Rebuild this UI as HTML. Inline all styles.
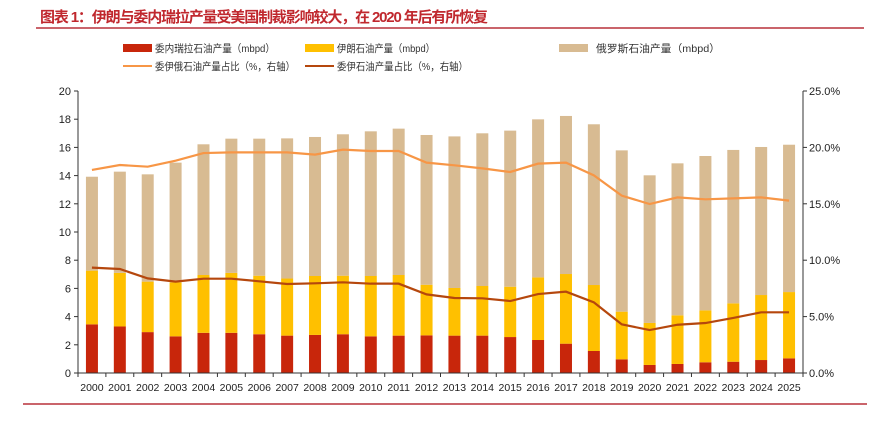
<!DOCTYPE html>
<html><head><meta charset="utf-8"><style>
body{margin:0;background:#fff;width:870px;height:424px;overflow:hidden}
svg{display:block;font-family:"Liberation Sans","Noto Sans CJK SC",sans-serif}
</style></head><body>
<svg id="chart" width="870" height="424" xmlns="http://www.w3.org/2000/svg">
<text x="40" y="22" font-size="15" fill="#c0282e" font-weight="bold" textLength="448" lengthAdjust="spacing">图表 1：伊朗与委内瑞拉产量受美国制裁影响较大，在 2020 年后有所恢复</text>
<line x1="36" y1="28" x2="864" y2="28" stroke="#b8313a" stroke-width="1.5"/>
<line x1="23" y1="404" x2="867" y2="404" stroke="#b8313a" stroke-width="1.5"/>
<g font-size="10.5" fill="#333">
<g><rect x="123" y="44" width="29" height="8" fill="#c8260b"/><text x="155" y="52" textLength="120" lengthAdjust="spacingAndGlyphs">委内瑞拉石油产量（mbpd）</text></g>
<g><rect x="305" y="44" width="29" height="8" fill="#ffc000"/><text x="337" y="52" textLength="98" lengthAdjust="spacingAndGlyphs">伊朗石油产量（mbpd）</text></g>
<g><rect x="559" y="44" width="29" height="8" fill="#d8bb92"/><text x="596" y="52" textLength="124" lengthAdjust="spacingAndGlyphs">俄罗斯石油产量（mbpd）</text></g>
<g><line x1="123" y1="66" x2="152" y2="66" stroke="#f79646" stroke-width="2"/><text x="155" y="70" textLength="140" lengthAdjust="spacingAndGlyphs">委伊俄石油产量占比（%，右轴）</text></g>
<g><line x1="305" y1="66" x2="334" y2="66" stroke="#b5470d" stroke-width="2"/><text x="337" y="70" textLength="131" lengthAdjust="spacingAndGlyphs">委伊石油产量占比（%，右轴）</text></g>
</g>
<g id="plot"></g>
</svg>
<script>
const years=['2000','2001','2002','2003','2004','2005','2006','2007','2008','2009','2010','2011','2012','2013','2014','2015','2016','2017','2018','2019','2020','2021','2022','2023','2024','2025'];
const venezuela=[3.45,3.3,2.9,2.6,2.85,2.85,2.75,2.65,2.7,2.75,2.6,2.65,2.67,2.65,2.65,2.55,2.34,2.08,1.56,0.97,0.57,0.64,0.76,0.8,0.92,1.04];
const iran=[3.81,3.8,3.58,3.83,4.1,4.25,4.15,4.05,4.18,4.15,4.28,4.3,3.59,3.38,3.52,3.57,4.44,4.94,4.68,3.38,2.98,3.45,3.68,4.14,4.61,4.7];
const russia=[6.66,7.18,7.61,8.49,9.27,9.52,9.72,9.94,9.86,10.03,10.26,10.38,10.62,10.75,10.83,11.07,11.21,11.21,11.4,11.44,10.47,10.78,10.95,10.88,10.5,10.45];
const shareAll=[18.0,18.44,18.29,18.82,19.5,19.56,19.56,19.56,19.36,19.8,19.68,19.68,18.65,18.41,18.14,17.82,18.56,18.65,17.52,15.72,14.98,15.57,15.4,15.48,15.57,15.28];
const shareVI=[9.34,9.22,8.39,8.1,8.36,8.36,8.13,7.89,7.95,8.04,7.92,7.92,6.97,6.65,6.62,6.38,7.0,7.21,6.26,4.31,3.81,4.28,4.43,4.88,5.38,5.38];
const leftTicks=[0,2,4,6,8,10,12,14,16,18,20];
const rightTicks=[0,5,10,15,20,25];

const NS='http://www.w3.org/2000/svg';
const g=document.getElementById('plot');
const X0=78,X1=803,Y0=373,Y1=91;
const band=(X1-X0)/years.length;
const xc=i=>X0+band*(i+0.5);
const yL=v=>Y0-(v/20)*(Y0-Y1);
const yR=v=>Y0-(v/25)*(Y0-Y1);
function mk(t,a){const e=document.createElementNS(NS,t);for(const k in a)e.setAttribute(k,a[k]);g.appendChild(e);return e;}
const bw=12;
years.forEach((y,i)=>{
  let base=0;
  [[venezuela,'#c8260b','bar-venezuela-'],[iran,'#ffc000','bar-iran-'],[russia,'#d8bb92','bar-russia-']].forEach(([arr,c,n])=>{
    const v=arr[i];
    const r=mk('rect',{x:xc(i)-bw/2,y:yL(base+v),width:bw,height:yL(base)-yL(base+v),fill:c});
    
    
    base+=v;
  });
});
[[shareAll,'#f79646','line-share-all'],[shareVI,'#b5470d','line-share-vi']].forEach(([arr,c,n])=>{
  const p=mk('polyline',{points:arr.map((v,i)=>xc(i)+','+yR(v)).join(' '),fill:'none',stroke:c,'stroke-width':2.2});
  
  
});
let a=mk('line',{x1:X0,y1:Y1,x2:X0,y2:Y0,stroke:'#333','stroke-width':1});


a=mk('line',{x1:X1,y1:Y1,x2:X1,y2:Y0,stroke:'#333','stroke-width':1});


a=mk('line',{x1:X0,y1:Y0,x2:X1,y2:Y0,stroke:'#333','stroke-width':1});


leftTicks.forEach(v=>{
  mk('line',{x1:X0-4,y1:yL(v),x2:X0,y2:yL(v),stroke:'#333'});
  const t=mk('text',{x:X0-7,y:yL(v)+4,'font-size':11,'text-anchor':'end',fill:'#222'});
  t.textContent=v;
  
  
});
rightTicks.forEach(v=>{
  mk('line',{x1:X1,y1:yR(v),x2:X1+4,y2:yR(v),stroke:'#333'});
  const t=mk('text',{x:X1+6,y:yR(v)+4,'font-size':11,fill:'#222'});
  t.textContent=v.toFixed(1)+'%';
  
  
});
for(let i=0;i<=years.length;i++)mk('line',{x1:X0+band*i,y1:Y0,x2:X0+band*i,y2:Y0+4,stroke:'#333'});
years.forEach((y,i)=>{
  const t=mk('text',{x:xc(i),y:391,'font-size':10.5,'text-anchor':'middle',fill:'#222'});
  t.textContent=y;
  
  
});
</script>
</body></html>
